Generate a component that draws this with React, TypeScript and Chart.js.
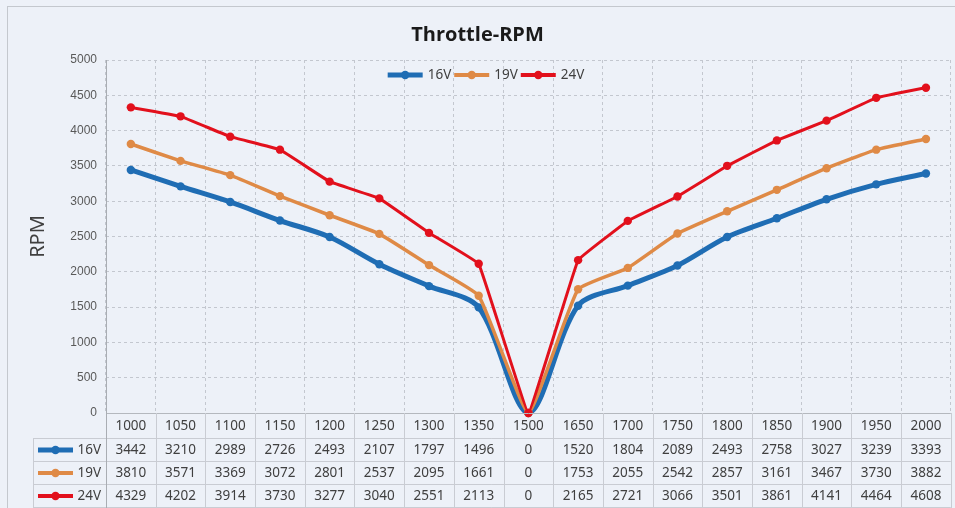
import { useEffect, useRef } from "react";
import { Chart, registerables } from "chart.js";
Chart.register(...registerables);

const categories = ["1000", "1050", "1100", "1150", "1200", "1250", "1300", "1350", "1500", "1650", "1700", "1750", "1800", "1850", "1900", "1950", "2000"];
const series16V = [3442, 3210, 2989, 2726, 2493, 2107, 1797, 1496, 0, 1520, 1804, 2089, 2493, 2758, 3027, 3239, 3393];
const series19V = [3810, 3571, 3369, 3072, 2801, 2537, 2095, 1661, 0, 1753, 2055, 2542, 2857, 3161, 3467, 3730, 3882];
const series24V = [4329, 4202, 3914, 3730, 3277, 3040, 2551, 2113, 0, 2165, 2721, 3066, 3501, 3861, 4141, 4464, 4608];
const seriesNames = ["16V", "19V", "24V"];
const seriesColors = ["#1f6db4", "#df8a46", "#e2101c"];
const seriesWidths = [5, 3.5, 3];
const yMin = 0;
const yMax = 5000;
const yStep = 500;
const chartTitle = "Throttle-RPM";
const yTitle = "RPM";

const TEXT = "#404040";
const FONT = "'Noto Sans', 'Open Sans', sans-serif";

function drawKey(ctx: CanvasRenderingContext2D, x0: number, x1: number, y: number, color: string, lw: number) {
  ctx.save();
  ctx.strokeStyle = color;
  ctx.lineWidth = lw;
  ctx.beginPath();
  ctx.moveTo(x0, y);
  ctx.lineTo(x1, y);
  ctx.stroke();
  ctx.fillStyle = color;
  ctx.beginPath();
  ctx.arc((x0 + x1) / 2, y, 4.2, 0, Math.PI * 2);
  ctx.fill();
  ctx.restore();
}

const decorPlugin = {
  id: "decor",
  beforeDraw(chart: any) {
    const ctx = chart.ctx as CanvasRenderingContext2D;
    ctx.save();
    ctx.fillStyle = "#edf1f8";
    ctx.fillRect(0, 0, chart.width, chart.height);
    ctx.strokeStyle = "#c4c8ce";
    ctx.lineWidth = 1;
    ctx.strokeRect(7.5, 6.5, chart.width + 10, chart.height + 10);
    ctx.restore();
  },
  afterDraw(chart: any) {
    const ctx = chart.ctx as CanvasRenderingContext2D;
    const area = chart.chartArea;
    const xs = chart.scales.x;
    const n = categories.length;
    const cw = (area.right - area.left) / n;
    const bottom = chart.height;
    const rowLines = [438, 461, 484, 507];
    const rowCenters = [450, 473, 496];
    const keyLeft = 33;
    ctx.save();
    // x axis line (solid)
    ctx.strokeStyle = "#b4b8be";
    ctx.lineWidth = 1;
    ctx.beginPath();
    ctx.moveTo(area.left, Math.round(area.bottom) + 0.5);
    ctx.lineTo(area.right, Math.round(area.bottom) + 0.5);
    ctx.stroke();
    // table grid
    ctx.strokeStyle = "#c9ccd3";
    ctx.beginPath();
    for (let i = 0; i <= n; i++) {
      const x = Math.round(area.left + i * cw) + 0.5;
      ctx.moveTo(x, area.bottom);
      ctx.lineTo(x, bottom);
    }
    ctx.moveTo(keyLeft + 0.5, rowLines[0]);
    ctx.lineTo(keyLeft + 0.5, bottom);
    for (const y of rowLines) {
      ctx.moveTo(keyLeft, y + 0.5);
      ctx.lineTo(area.right, y + 0.5);
    }
    ctx.stroke();
    // axis line (solid) full height
    ctx.strokeStyle = "#a9adb3";
    ctx.beginPath();
    ctx.moveTo(Math.round(area.left) + 0.5, area.top);
    ctx.lineTo(Math.round(area.left) + 0.5, bottom);
    ctx.stroke();

    // table values
    const data = [series16V, series19V, series24V];
    ctx.font = `13.5px ${FONT}`;
    ctx.fillStyle = TEXT;
    ctx.textBaseline = "middle";
    for (let s = 0; s < data.length; s++) {
      const y = rowCenters[s];
      ctx.textAlign = "center";
      ctx.fillStyle = TEXT;
      for (let i = 0; i < n; i++) {
        ctx.fillText(String(data[s][i]), xs.getPixelForValue(i), y);
      }
      drawKey(ctx, 38, 73, y, seriesColors[s], seriesWidths[s] > 4 ? 5 : 4);
      ctx.fillStyle = TEXT;
      ctx.textAlign = "right";
      ctx.fillText(seriesNames[s], 101, y);
    }

    // legend inside plot
    ctx.font = `13.5px ${FONT}`;
    const markerW = 35;
    const gapText = 5;
    const gapItem = 3;
    const widths = seriesNames.map((t) => markerW + gapText + ctx.measureText(t).width);
    const total = widths.reduce((a, b) => a + b, 0) + gapItem * (widths.length - 1);
    let x = 486 - total / 2;
    const ly = 75;
    for (let s = 0; s < seriesNames.length; s++) {
      drawKey(ctx, x, x + markerW, ly, seriesColors[s], seriesWidths[s] > 4 ? 5 : 4);
      ctx.fillStyle = TEXT;
      ctx.textAlign = "left";
      ctx.fillText(seriesNames[s], x + markerW + gapText, ly);
      x += widths[s] + gapItem;
    }
    ctx.restore();
  },
};

export default function App() {
  const ref = useRef<HTMLCanvasElement | null>(null);
  useEffect(() => {
    if (!ref.current) return;
    const data = [series16V, series19V, series24V];
    const tensions = [0.3, 0.12, 0.05];
    const chart = new Chart(ref.current, {
      type: "line",
      data: {
        labels: categories,
        datasets: data.map((d, i) => ({
          label: seriesNames[i],
          data: d,
          borderColor: seriesColors[i],
          backgroundColor: seriesColors[i],
          pointBackgroundColor: seriesColors[i],
          pointBorderColor: seriesColors[i],
          borderWidth: seriesWidths[i],
          pointRadius: 4.2,
          pointBorderWidth: 0,
          tension: tensions[i],
          clip: false as any,
          order: 2 - i,
        })),
      },
      options: {
        responsive: false,
        animation: false,
        devicePixelRatio: 1,
        layout: { padding: { left: 0, right: 0, top: 0, bottom: 0 } },
        plugins: {
          legend: { display: false },
          tooltip: { enabled: false },
          title: {
            display: true,
            text: chartTitle,
            color: "#1a1a1a",
            font: { family: "'Open Sans', 'Noto Sans', sans-serif", size: 20, weight: "bold" },
            padding: { top: 23, bottom: 13 },
          },
        },
        scales: {
          x: {
            type: "category",
            offset: true,
            grid: {
              display: true,
              offset: true,
              drawTicks: false,
              color: "#c3c7cf",
            },
            border: { display: false, dash: [3, 3] },
            ticks: {
              color: TEXT,
              font: { family: FONT, size: 13.5 },
              padding: 5,
              maxRotation: 0,
              autoSkip: false,
            },
            afterFit(scale: any) {
              scale.height = 95;
            },
          },
          y: {
            min: yMin,
            max: yMax,
            ticks: {
              stepSize: yStep,
              color: "#595959",
              font: { family: "'Liberation Sans', Arial, sans-serif", size: 12 },
              padding: 9,
              callback: (v: any) => String(v),
            },
            grid: { drawTicks: false, color: "#c3c7cf" },
            border: { display: false, dash: [3, 3] },
            title: {
              display: true,
              text: yTitle,
              color: TEXT,
              font: { family: FONT, size: 20 },
              padding: { top: 26, bottom: 0 },
            },
            afterFit(scale: any) {
              scale.width = 106;
            },
          },
        },
      },
      plugins: [decorPlugin],
    });
    return () => chart.destroy();
  }, []);
  return (
    <div style={{ position: "fixed", left: 0, top: 0, width: 955, height: 508 }}>
      <canvas ref={ref} width={955} height={508} />
    </div>
  );
}
